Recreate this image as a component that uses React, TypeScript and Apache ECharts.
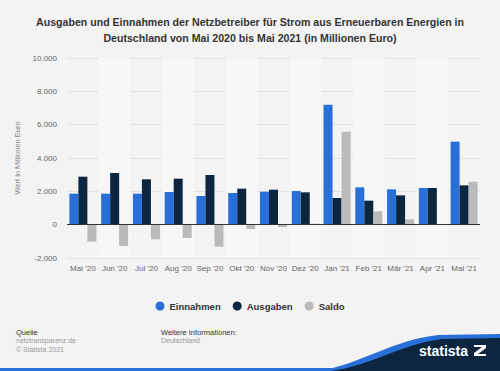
import React, { useEffect, useRef } from "react";
import * as echarts from "echarts";

const categories = ["Mai '20", "Jun '20", "Jul '20", "Aug '20", "Sep '20", "Okt '20", "Nov '20", "Dez '20", "Jan '21", "Feb '21", "Mär '21", "Apr '21", "Mai '21"];
const einnahmen = [1860, 1860, 1860, 1960, 1720, 1900, 1980, 2020, 7200, 2240, 2120, 2200, 4980];
const ausgaben = [2880, 3100, 2720, 2760, 2980, 2160, 2100, 1940, 1600, 1440, 1760, 2200, 2360];
const saldo = [-1020, -1280, -880, -800, -1320, -260, -140, 60, 5580, 800, 320, 0, 2580];
const titleLines = [
  "Ausgaben und Einnahmen der Netzbetreiber für Strom aus Erneuerbaren Energien in",
  "Deutschland von Mai 2020 bis Mai 2021 (in Millionen Euro)",
];

const FONT = "'Liberation Sans', Arial, sans-serif";

export default function App() {
  const ref = useRef<HTMLDivElement>(null);
  useEffect(() => {
    document.body.style.margin = "0";
    if (!ref.current) return;
    echarts.graphic.registerShape(
      "waveBlue",
      echarts.graphic.extendPath("M318,371 C362,364 392,340 438,335 L500,334 L500,371 Z", {})
    );
    echarts.graphic.registerShape(
      "waveNavy",
      echarts.graphic.extendPath("M330,371 C372,366 400,344 442,339 L500,338 L500,371 Z", {})
    );
    echarts.graphic.registerShape(
      "logoIcon",
      echarts.graphic.extendPath("M0,0 L12,0 L12,3 L4,9 L12,9 L12,11 L0,11 L0,8 L8,2 L0,2 Z", {})
    );
    const chart = echarts.init(ref.current, undefined, { renderer: "svg" });
    const fmt = (v: number) => {
      const s = Math.abs(v).toString().replace(/\B(?=(\d{3})+(?!\d))/g, ".");
      return (v < 0 ? "-" : "") + s;
    };
    chart.setOption({
      animation: false,
      backgroundColor: "#f3f3f3",
      title: {
        text: titleLines.join("\n"),
        left: "center",
        top: 9,
        textStyle: { fontFamily: FONT, fontSize: 10.6, fontWeight: "bold", color: "#333", lineHeight: 16 },
      },
      legend: {
        data: ["Einnahmen", "Ausgaben", "Saldo"],
        left: "center",
        top: 296,
        icon: "circle",
        itemWidth: 9,
        itemHeight: 9,
        itemGap: 12,
        textStyle: { fontFamily: FONT, fontSize: 9.5, fontWeight: "bold", color: "#333" },
      },
      grid: { left: 67, right: 20, top: 58, bottom: 113 },
      xAxis: {
        type: "category",
        data: categories,
        axisLine: { show: false },
        axisTick: { show: false },
        axisLabel: { interval: 0, fontFamily: FONT, fontSize: 8, color: "#666", margin: 6 },
        splitArea: { show: true, interval: 0, areaStyle: { color: ["rgba(0,0,0,0)", "#f7f7f7"] } },
      },
      yAxis: {
        type: "value",
        min: -2000,
        max: 10000,
        interval: 2000,
        name: "Wert in Millionen Euro",
        nameLocation: "middle",
        nameGap: 40,
        nameTextStyle: { fontFamily: FONT, fontSize: 7.5, color: "#888" },
        axisLabel: { fontFamily: FONT, fontSize: 8, color: "#666", margin: 10, formatter: fmt },
        splitLine: { lineStyle: { color: "#e3e3e3", width: 1 } },
        axisLine: { show: false },
        axisTick: { show: false },
      },
      series: [
        {
          name: "Einnahmen",
          type: "bar",
          data: einnahmen,
          barWidth: 9,
          barGap: "0%",
          itemStyle: { color: "#2870d8" },
          markLine: {
            silent: true,
            symbol: "none",
            label: { show: false },
            lineStyle: { color: "#333", width: 1, type: "solid" },
            data: [{ yAxis: 0 }],
          },
        },
        { name: "Ausgaben", type: "bar", data: ausgaben, barWidth: 9, itemStyle: { color: "#0d2640" } },
        { name: "Saldo", type: "bar", data: saldo, barWidth: 9, itemStyle: { color: "#bababa" } },
      ],
      graphic: [
        { type: "text", left: 16, top: 328, style: { text: "Quelle", fontFamily: FONT, fontSize: 7.5, fill: "#333" } },
        { type: "text", left: 16, top: 337, style: { text: "netztransparenz.de", fontFamily: FONT, fontSize: 7, fill: "#999" } },
        { type: "text", left: 16, top: 346, style: { text: "© Statista 2021", fontFamily: FONT, fontSize: 7, fill: "#999" } },
        { type: "text", left: 161, top: 328, style: { text: "Weitere Informationen:", fontFamily: FONT, fontSize: 7.5, fill: "#333" } },
        { type: "text", left: 161, top: 337, style: { text: "Deutschland", fontFamily: FONT, fontSize: 7, fill: "#999" } },
        { type: "rect", shape: { x: 0, y: 368, width: 500, height: 3 }, style: { fill: "#2870d8" } },
        { type: "waveBlue", x: 0, y: 0, style: { fill: "#2870d8" } },
        { type: "waveNavy", x: 0, y: 0, style: { fill: "#0d2640" } },
        { type: "text", x: 419, y: 344, style: { text: "statista", fontFamily: FONT, fontSize: 14, fontWeight: "bold", fill: "#fff" } },
        { type: "logoIcon", x: 474, y: 345, style: { fill: "#fff" } },
      ],
    });
    return () => chart.dispose();
  }, []);
  return <div ref={ref} style={{ width: 500, height: 371 }} />;
}
